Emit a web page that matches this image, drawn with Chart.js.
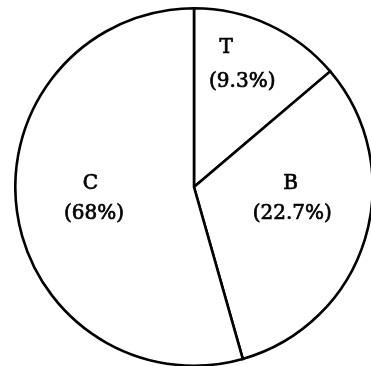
<!DOCTYPE html>
<html>
<head>
<meta charset="utf-8">
<script src="https://cdn.jsdelivr.net/npm/chart.js@4.4.0/dist/chart.umd.min.js"></script>
<style>
  html, body { margin: 0; padding: 0; background: #fff; overflow: hidden; }
  body { width: 371px; height: 366px; position: relative; }
  #wrap { position: absolute; left: 14px; top: 7px; width: 360px; height: 360px; }
</style>
</head>
<body>
<div id="wrap"><canvas id="pieChart"></canvas></div>
<script>
// ------------------------------
// Data
// ------------------------------
const categories = ["T", "B", "C"];
const shareLabels = ["(9.3%)", "(22.7%)", "(68%)"];   // printed text
const sliceShares = [13.8, 31.8, 54.4];               // slice sizes as drawn

// label anchors per slice, in units of the radius from the centre
// [letter dx, letter dy, percent dx, percent dy]
const labelSpots = [
    [0.18, -0.78, 0.27, -0.59],
    [0.54, -0.02, 0.55, 0.15],
    [-0.58, -0.02, -0.56, 0.15]
];

const sliceLabels = {
    id: "sliceLabels",
    afterDatasetsDraw(chart) {
        const c = chart.ctx;
        const arcs = chart.getDatasetMeta(0).data;
        c.save();
        c.fillStyle = "#000";
        c.strokeStyle = "#000";
        c.lineWidth = 0.7;
        c.font = "20px 'DejaVu Serif'";
        c.textAlign = "center";
        c.textBaseline = "middle";
        arcs.forEach((arc, i) => {
            const r = arc.outerRadius;
            const s = labelSpots[i];
            const pts = [[categories[i], s[0], s[1]], [shareLabels[i], s[2], s[3]]];
            pts.forEach(([txt, dx, dy]) => {
                c.fillText(txt, arc.x + dx * r, arc.y + dy * r);
                c.strokeText(txt, arc.x + dx * r, arc.y + dy * r);
            });
        });
        c.restore();
    }
};

new Chart(document.getElementById("pieChart"), {
    type: "pie",
    data: {
        labels: categories,
        datasets: [{
            data: sliceShares,
            backgroundColor: "#fff",
            borderColor: "#000",
            borderWidth: 2.6,
            borderJoinStyle: "miter"
        }]
    },
    options: {
        responsive: true,
        maintainAspectRatio: false,
        animation: false,
        layout: { padding: 0 },
        plugins: {
            legend: { display: false },
            tooltip: { enabled: false }
        }
    },
    plugins: [sliceLabels]
});
</script>
</body>
</html>
